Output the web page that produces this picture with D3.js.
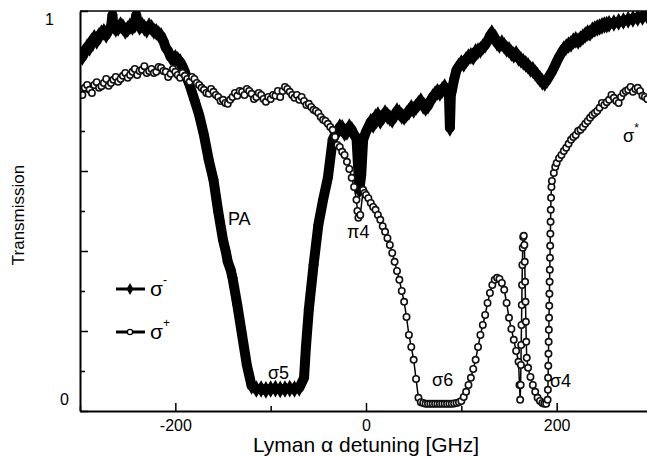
<!DOCTYPE html>
<html>
<head>
<meta charset="utf-8">
<script src="https://cdn.jsdelivr.net/npm/d3@7"></script>
<style>
  body { margin: 0; background: #fff; }
  text { font-family: "Liberation Sans", Arial, sans-serif; fill: #000; }
</style>
</head>
<body>
<div class="canvas"></div>
<script>
// sigma- scan, [detuning GHz, transmission] (filled diamonds)
const sigmaMinus = [
  [-300,.895],[-297.5,.885],[-295,.898],[-292.5,.91],[-290,.908],[-287.5,.925],[-285,.933],[-282.5,.925],
  [-280,.938],[-277.5,.945],[-275,.948],[-272.5,.94],[-270,.953],[-267.5,.96],[-266,.99],[-265,.963],
  [-262.5,.955],[-260,.958],[-257.5,.965],[-255,.96],[-252.5,.95],[-250,.955],[-247.5,.962],[-245,.96],
  [-242.5,.965],[-241,.99],[-240,.973],[-237.5,.96],[-235,.965],[-232.5,.958],[-230,.953],[-227.5,.962],
  [-225,.958],[-222.5,.95],[-220,.948],[-217.5,.942],[-215,.938],[-212.5,.925],[-210,.908],[-207.5,.9],
  [-205,.885],[-202.5,.88],[-200,.883],[-197.5,.878],[-195,.873],[-192.5,.862],[-190,.848],[-187.5,.83],
  [-185,.815],[-180,.778],[-175,.74],[-170,.69],[-165,.628],[-160,.578],[-155,.498],[-150,.428],
  [-147,.398],[-145,.373],[-142,.353],[-140,.333],[-135,.265],[-130,.19],[-125,.115],[-120,.063],
  [-115,.055],[-110,.055],[-105,.053],[-100,.055],[-95,.056],[-90,.054],[-85,.055],[-80,.056],
  [-75,.055],[-70,.058],[-65,.083],[-63,.16],[-60,.253],[-55,.365],[-50,.465],[-45,.528],[-40,.583],
  [-35,.678],[-32.5,.69],[-30,.698],[-27.5,.71],[-25,.708],[-22.5,.695],[-20,.698],[-17.5,.71],
  [-15,.703],[-12.5,.69],[-10,.683],[-7,.553],[-5,.59],[-3,.678],[0,.698],[2.5,.71],[5,.723],
  [7.5,.715],[10,.735],[12.5,.74],[15,.725],[17.5,.735],[20,.745],[22.5,.738],[25,.733],[27.5,.728],
  [30,.74],[32.5,.75],[35,.745],[37.5,.738],[40,.735],[42.5,.742],[45,.748],[47.5,.758],[50,.753],
  [52.5,.76],[55,.768],[57.5,.775],[60,.763],[62.5,.758],[65,.763],[67.5,.775],[70,.785],[72.5,.792],
  [75,.798],[77.5,.795],[80,.803],[82.5,.81],[85,.798],[87,.79],[88,.708],[89,.79],[90,.8],[92.5,.83],
  [95,.853],[97.5,.862],[100,.87],[102.5,.868],[105,.878],[107.5,.885],[110,.888],[112.5,.885],
  [115,.898],[117.5,.9],[120,.903],[122.5,.91],[125,.915],[127.5,.925],[130,.938],[132,.945],
  [135,.933],[137.5,.92],[140,.915],[142.5,.92],[145,.913],[147.5,.905],[150,.903],[152.5,.895],
  [155,.89],[157.5,.893],[160,.883],[162.5,.878],[165,.873],[167.5,.868],[170,.863],[172.5,.855],
  [175,.853],[177.5,.845],[180,.838],[182.5,.83],[185,.823],[187.5,.82],[190,.828],[192.5,.838],
  [195,.848],[197.5,.86],[200,.873],[202.5,.885],[205,.895],[207.5,.905],[210,.91],[212.5,.915],
  [215,.918],[217.5,.925],[220,.928],[222.5,.925],[225,.93],[227.5,.935],[230,.94],[232.5,.945],
  [235,.945],[237.5,.952],[240,.955],[242.5,.958],[245,.96],[247.5,.963],[250,.965],[252.5,.966],
  [255,.968],[260,.97],[265,.973],[270,.975],[275,.978],[280,.98],[285,.983],[290,.985],[295,.988]
];

// sigma+ scan, [detuning GHz, transmission] (open circles)
const sigmaPlus = [
  [-300,.798],[-297.5,.79],[-295,.808],[-292.5,.815],[-290,.803],[-287.5,.795],[-285,.815],[-282.5,.822],
  [-280,.808],[-277.5,.812],[-275,.82],[-272.5,.83],[-270,.813],[-267.5,.82],[-265,.828],[-262.5,.835],
  [-260,.823],[-257.5,.83],[-255,.838],[-252.5,.845],[-250,.833],[-247.5,.84],[-245,.848],[-242.5,.855],
  [-240,.84],[-237.5,.85],[-235,.853],[-232.5,.862],[-230,.845],[-227.5,.85],[-225,.855],[-222.5,.845],
  [-220,.848],[-217.5,.86],[-215,.858],[-212.5,.85],[-210,.848],[-207.5,.835],[-205,.843],[-202.5,.855],
  [-200,.848],[-197.5,.84],[-195,.833],[-192.5,.845],[-190,.838],[-187.5,.83],[-185,.823],[-182.5,.835],
  [-180,.83],[-177.5,.82],[-175,.815],[-172.5,.808],[-170,.803],[-167.5,.795],[-165,.793],[-162.5,.805],
  [-160,.798],[-157.5,.79],[-155,.785],[-152.5,.775],[-150,.778],[-147.5,.77],[-145,.768],[-142.5,.778],
  [-140,.785],[-137.5,.795],[-135,.788],[-132.5,.8],[-130,.798],[-127.5,.79],[-125,.805],[-122.5,.8],
  [-120,.793],[-117.5,.78],[-115,.785],[-112.5,.795],[-110,.79],[-107.5,.78],[-105,.773],[-102.5,.785],
  [-100,.78],[-97.5,.79],[-95,.788],[-92.5,.8],[-90,.785],[-87.5,.8],[-85,.81],[-82.5,.805],
  [-80,.798],[-77.5,.79],[-75,.783],[-72.5,.79],[-70,.778],[-67.5,.785],[-65,.775],[-62.5,.765],
  [-60,.768],[-57.5,.76],[-55,.753],[-52.5,.75],[-50,.745],[-47.5,.735],[-45,.728],[-42.5,.725],
  [-40,.718],[-37.5,.71],[-35,.703],[-32.5,.685],[-30,.665],[-27.5,.66],[-25,.648],[-22.5,.64],
  [-20,.623],[-17.5,.605],[-15,.583],[-12.5,.56],[-10,.528],[-9,.5],[-8,.483],[-6,.49],[-3,.553],
  [-1.5,.545],[0,.54],[2.5,.532],[5,.52],[7.5,.51],[10,.503],[12.5,.49],[15,.478],[17.5,.462],
  [20,.448],[22.5,.432],[25,.415],[27.5,.395],[30,.373],[32.5,.35],[35,.328],[37.5,.3],[40,.273],
  [42.5,.235],[45,.19],[47.5,.16],[50,.128],[52.5,.08],[55,.033],[57.5,.022],[60,.02],[62.5,.018],
  [65,.018],[67.5,.018],[70,.018],[72.5,.018],[75,.018],[77.5,.018],[80,.018],[82.5,.018],[85,.018],
  [87.5,.018],[90,.018],[92.5,.019],[95,.02],[97.5,.022],[100,.025],[102.5,.035],[105,.048],
  [107.5,.065],[110,.083],[112.5,.105],[115,.128],[117.5,.16],[120,.19],[122.5,.215],[125,.24],
  [127.5,.27],[130,.295],[132.5,.315],[135,.328],[137.5,.333],[140,.33],[142.5,.32],[145,.303],
  [147.5,.27],[150,.233],[152.5,.205],[155,.178],[157.5,.15],[160,.123],[161,.065],[161.7,.028],
  [162.2,.065],[162.5,.115],[162.8,.165],[163.1,.215],[163.4,.265],[163.7,.315],[164,.365],[164.4,.408],
  [164.9,.435],[165.5,.438],[166.1,.415],[166.5,.373],[166.9,.323],[167.3,.273],[167.7,.223],
  [168.1,.173],[168.6,.133],[170,.108],[172.5,.085],[175,.065],[177.5,.048],[180,.033],[182.5,.025],
  [185,.02],[187,.018],[189,.018],[190.5,.028],[190.8,.053],[191,.083],[191.2,.113],[191.4,.143],
  [191.6,.173],[191.8,.203],[192,.233],[192.2,.263],[192.4,.293],[192.6,.323],[192.8,.353],[193,.383],
  [193.2,.413],[193.4,.443],[193.6,.473],[193.8,.503],[194.1,.533],[194.5,.56],[195,.575],[197,.595],
  [198.5,.61],[200,.62],[202.5,.632],[205,.64],[207.5,.65],[210,.658],[212.5,.668],[215,.678],
  [217.5,.685],[220,.69],[222.5,.7],[225,.703],[227.5,.71],[230,.718],[232.5,.725],[235,.733],
  [237.5,.74],[240,.745],[242.5,.75],[245,.758],[247.5,.77],[250,.765],[252.5,.772],[255,.778],
  [257.5,.79],[260,.783],[262.5,.775],[265,.77],[267.5,.785],[270,.795],[272.5,.8],[275,.803],
  [277.5,.81],[280,.798],[282.5,.805],[285,.808],[287.5,.8],[290,.788],[292.5,.785],[295,.78]
];

const xMajor = [-200, 0, 200];
const xMinor = [-300, -100, 100, 300];
const yMajor = [0, 0.2, 0.4, 0.6, 0.8, 1];
const yMinor = [0.1, 0.3, 0.5, 0.7, 0.9];

// peak labels, in data units
const notes = [
  { text: 'PA', ghz: -144.8, t: 0.465 },
  { text: 'σ5', ghz: -102.8, t: 0.08 },
  { text: 'π4', ghz: -19.9, t: 0.4325 },
  { text: 'σ6', ghz: 69.3, t: 0.0625 },
  { text: 'σ4', ghz: 193, t: 0.06 },
  { text: 'σ', sup: '*', ghz: 269.7, t: 0.6725 }
];

const W = 647, H = 457;
const plot = { left: 80, right: 652, top: 11, bottom: 411 };

const svg = d3.select('.canvas')
  .append('svg')
  .attr('width', W)
  .attr('height', H);

const x = d3.scaleLinear().domain([-300, 300]).range([plot.left, plot.right]);
const y = d3.scaleLinear().domain([0, 1]).range([plot.bottom, plot.top]);

svg.append('clipPath').attr('id', 'clip')
  .append('rect')
  .attr('x', plot.left).attr('y', plot.top)
  .attr('width', plot.right - plot.left).attr('height', plot.bottom - plot.top);

const graph = svg.append('g').attr('clip-path', 'url(#clip)');

const line = d3.line().x(d => x(d[0])).y(d => y(d[1]));

// sigma- : heavy band of filled diamonds
graph.append('path')
  .datum(sigmaMinus)
  .attr('d', line)
  .attr('fill', 'none')
  .attr('stroke', '#000')
  .attr('stroke-width', 10)
  .attr('stroke-linejoin', 'round')
  .attr('stroke-linecap', 'round');

const diamond = d3.symbol().type(d3.symbolDiamond).size(90);
graph.selectAll('.dm')
  .data(sigmaMinus)
  .enter().append('path')
  .attr('class', 'dm')
  .attr('transform', d => `translate(${x(d[0])},${y(d[1])})`)
  .attr('d', diamond)
  .attr('fill', '#000');

// sigma+ : open circles on a thin line
graph.append('path')
  .datum(sigmaPlus)
  .attr('d', line)
  .attr('fill', 'none')
  .attr('stroke', '#000')
  .attr('stroke-width', 1.5);

graph.selectAll('.pc')
  .data(sigmaPlus)
  .enter().append('circle')
  .attr('class', 'pc')
  .attr('cx', d => x(d[0]))
  .attr('cy', d => y(d[1]))
  .attr('r', 3.2)
  .attr('fill', '#fff')
  .attr('stroke', '#111')
  .attr('stroke-width', 1.6);

// top frame
svg.append('line')
  .attr('x1', plot.left).attr('x2', W)
  .attr('y1', plot.top).attr('y2', plot.top)
  .attr('stroke', '#000').attr('stroke-width', 1.5);

// axes, ticks point inwards
const xAxis = svg.append('g')
  .attr('transform', `translate(0, ${plot.bottom})`)
  .call(d3.axisBottom(x).tickValues(xMajor).tickSizeInner(-8).tickSizeOuter(0)
    .tickPadding(9).tickFormat(d => String(d)));
svg.append('g')
  .attr('transform', `translate(0, ${plot.bottom})`)
  .call(d3.axisBottom(x).tickValues(xMinor).tickSizeInner(-5).tickSizeOuter(0).tickFormat(''))
  .select('.domain').remove();

const yAxis = svg.append('g')
  .attr('transform', `translate(${plot.left}, 0)`)
  .call(d3.axisLeft(y).tickValues(yMajor).tickSizeInner(-8).tickSizeOuter(0)
    .tickFormat(d => (d === 0 || d === 1) ? String(d) : ''));
svg.append('g')
  .attr('transform', `translate(${plot.left}, 0)`)
  .call(d3.axisLeft(y).tickValues(yMinor).tickSizeInner(-5).tickSizeOuter(0).tickFormat(''))
  .select('.domain').remove();

svg.selectAll('.domain').attr('stroke-width', 2);
svg.selectAll('.tick line').attr('stroke-width', 1.5);

xAxis.selectAll('text')
  .attr('font-size', 16)
  .attr('font-family', '"Liberation Sans", Arial, sans-serif');

yAxis.selectAll('text')
  .attr('font-size', 16)
  .attr('font-family', '"Liberation Sans", Arial, sans-serif')
  .attr('x', d => d === 1 ? -26 : -11)
  .attr('dy', d => d === 1 ? '0.85em' : '-0.4em');

// axis titles
svg.append('text')
  .attr('x', 366)
  .attr('y', 452)
  .attr('text-anchor', 'middle')
  .attr('font-size', 21)
  .text('Lyman α detuning [GHz]');

svg.append('text')
  .attr('transform', 'translate(24, 215) rotate(-90)')
  .attr('text-anchor', 'middle')
  .attr('font-size', 17)
  .text('Transmission');

// legend
const legend = svg.append('g');
const legendRows = [
  { y: 289, sup: '-', filled: true },
  { y: 332, sup: '+', filled: false }
];
legendRows.forEach(r => {
  legend.append('line')
    .attr('x1', 116).attr('x2', 145)
    .attr('y1', r.y).attr('y2', r.y)
    .attr('stroke', '#000').attr('stroke-width', 3);
  if (r.filled) {
    legend.append('path')
      .attr('transform', `translate(130, ${r.y})`)
      .attr('d', d3.symbol().type(d3.symbolDiamond).size(40))
      .attr('fill', '#000');
  } else {
    legend.append('circle')
      .attr('cx', 130).attr('cy', r.y).attr('r', 2.6)
      .attr('fill', '#fff').attr('stroke', '#000').attr('stroke-width', 1.2);
  }
  const t = legend.append('text')
    .attr('x', 150).attr('y', r.y + 7)
    .attr('font-size', 21)
    .text('σ');
  t.append('tspan')
    .attr('dy', -12)
    .attr('font-size', 12)
    .text(r.sup);
});

// peak labels
notes.forEach(n => {
  const t = svg.append('text')
    .attr('x', x(n.ghz))
    .attr('y', y(n.t))
    .attr('font-size', 18)
    .text(n.text);
  if (n.sup) {
    t.append('tspan').attr('dy', -10).attr('font-size', 12).text(n.sup);
  }
});
</script>
</body>
</html>
